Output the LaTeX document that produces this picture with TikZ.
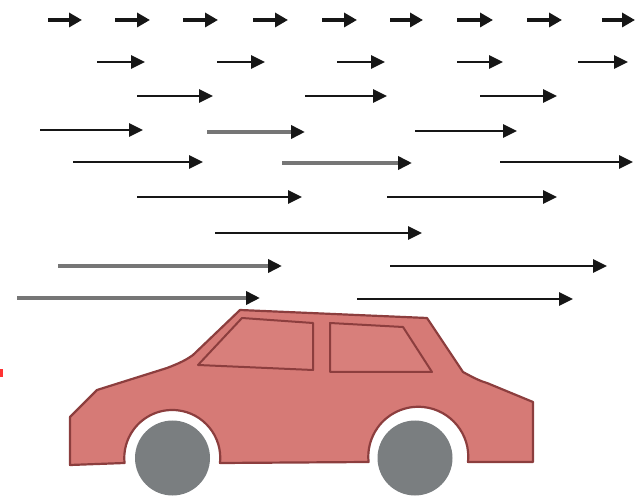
\documentclass[tikz,border=0pt]{standalone}
\usetikzlibrary{arrows.meta}
\definecolor{carbody}{RGB}{214,122,118}
\definecolor{caredge}{RGB}{140,62,62}
\definecolor{tyre}{RGB}{122,126,128}
\definecolor{flow}{RGB}{22,22,22}
\definecolor{flowlight}{RGB}{118,118,118}
\begin{document}
\begin{tikzpicture}[x=1pt,y=1pt,
  wind/.style={draw=flow, line width=2.6pt, -{Triangle[length=14pt,width=13pt]}},
  windshort/.style={wind, line width=3.4pt, -{Triangle[length=13pt,width=14pt]}},
  windpale/.style={draw=flowlight, line width=3.8pt, -{Triangle[length=14pt,width=13pt,color=flow]}},
  body/.style={fill=carbody, draw=caredge, line width=2.2pt, line join=round},
  pane/.style={fill=carbody!96!white, draw=caredge, line width=2pt, line join=round},
  wheel/.style={fill=tyre}]
\useasboundingbox (0,0) rectangle (639,503);

% airflow: short arrows along the top row
\foreach \a/\b in {48/82,115/150,183/218,253/288,322/357,390/423,457/493,527/562,602/635}
  \draw[windshort] (\a,483) -- (\b,483);

% airflow: longer arrows further down
\foreach \a/\b/\y in {97/145/441,217/265/441,337/385/441,457/503/441,578/628/441,
                      137/213/407,305/387/407,480/557/407,
                      40/143/373,415/517/372,
                      73/203/341,500/633/341,
                      137/302/306,387/557/306,
                      215/422/270,
                      390/607/237,
                      357/573/204}
  \draw[wind] (\a,\y) -- (\b,\y);

% paler, heavier shafts
\foreach \a/\b/\y in {207/305/371,282/412/340,58/282/237,17/260/205}
  \draw[windpale] (\a,\y) -- (\b,\y);

% car body with wheel arches
\draw[body] (70,86) -- (97,113) -- (167,135)
  .. controls (180,140) and (186,143) .. (193,148)
  -- (240,193) -- (427,185) -- (463,131)
  .. controls (474,125) and (480,122) .. (487,120)
  -- (533,101) -- (533,41) -- (468,41)
  arc[start angle=-6, end angle=186, radius=50]
  -- (220,40)
  arc[start angle=-6, end angle=186, radius=48]
  -- (70,38) -- cycle;

% windows
\draw[pane] (198,138) -- (242,185) -- (313,180) -- (313,133) -- cycle;
\draw[pane] (330,180) -- (403,176) -- (432,131) -- (330,131) -- cycle;

% wheels
\fill[wheel] (172.5,45) circle (37.5);
\fill[wheel] (415,45) circle (37.5);

% small mark on the left edge
\fill[red!80!white] (0,126) rectangle (2.5,134);
\end{tikzpicture}
\end{document}
